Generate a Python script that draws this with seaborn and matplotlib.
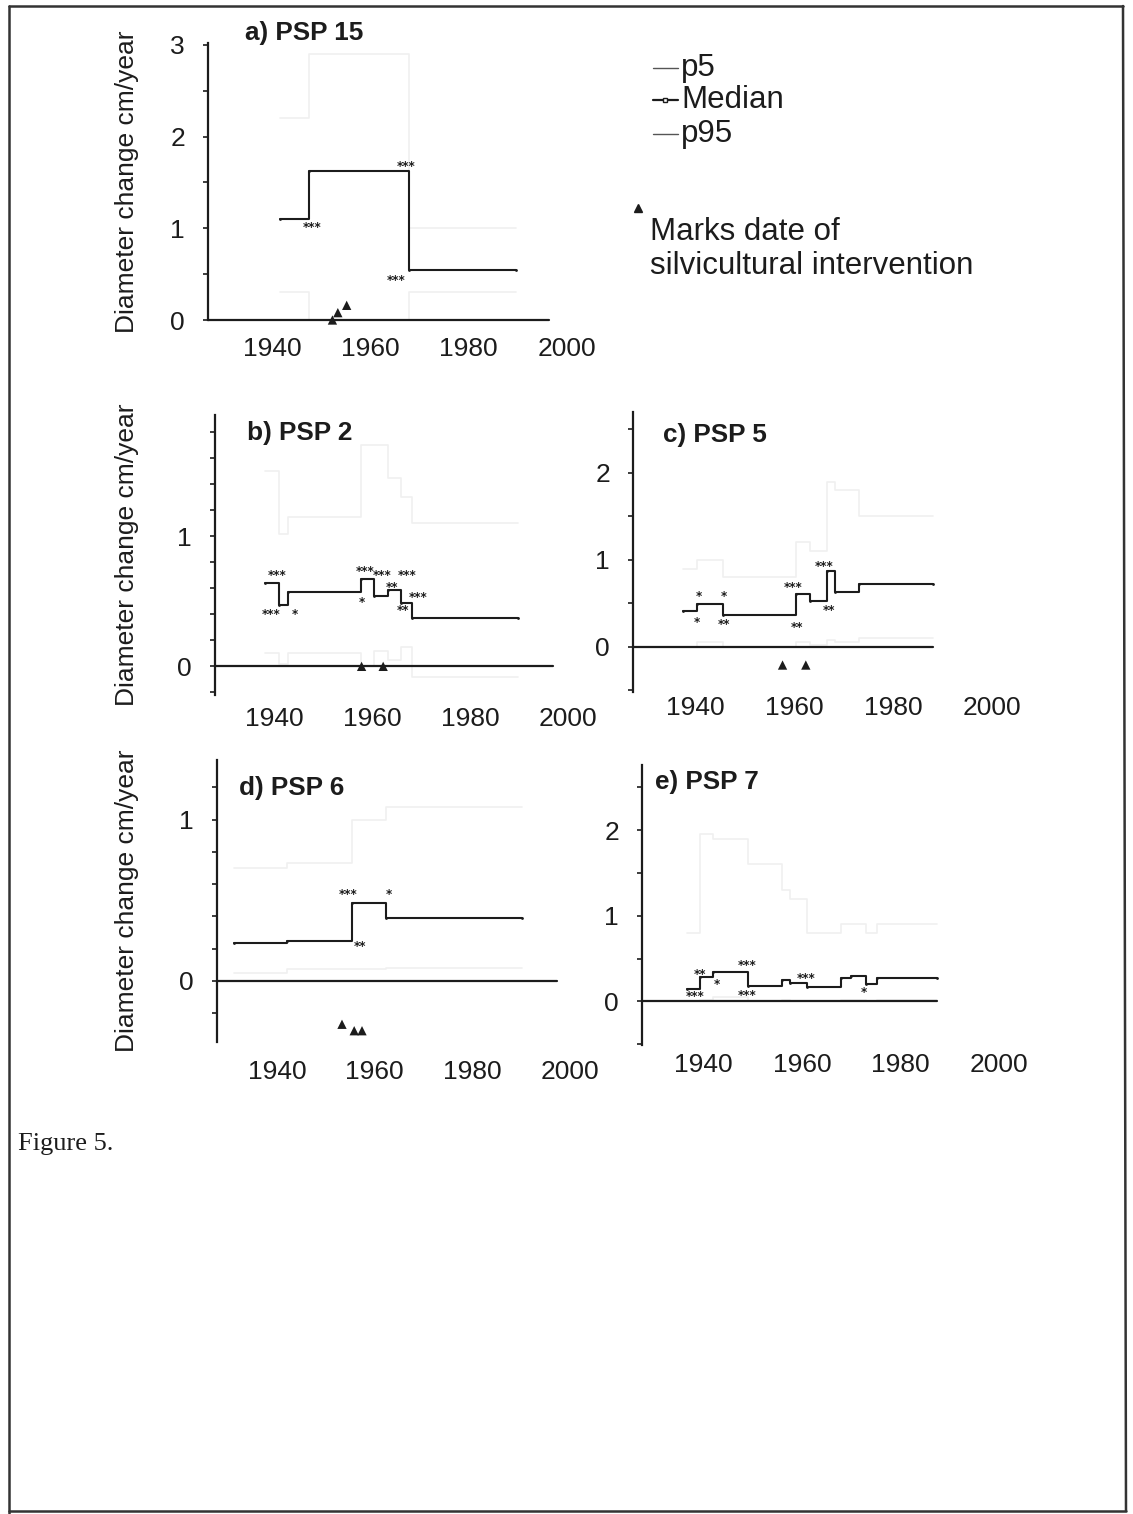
import matplotlib
matplotlib.use("Agg")
import matplotlib.pyplot as plt
from matplotlib.lines import Line2D
from matplotlib.ticker import FixedLocator
import seaborn as sns
import pandas as pd

# ---------------- data ----------------
# Panel a) PSP 15
A_YEARS = [1941.7, 1947.6, 1967.8, 1989.6]
A_MEDIAN = [1.10, 1.62, 0.54, 0.54]
A_P95 = [2.20, 2.90, 1.00, 1.00]
A_P5 = [0.30, 0.00, 0.30, 0.30]
A_INTERV_X = [1952.3, 1953.4, 1955.2]
A_INTERV_Y = [0.00, 0.08, 0.16]
A_STARS_X = [1948.1, 1967.2, 1965.3]
A_STARS_Y = [1.05, 1.72, 0.48]
A_STARS_T = ["***", "***", "***"]
A_ZERO_END = 1996.4

# Panel b) PSP 2
B_YEARS = [1938.2, 1941.1, 1942.9, 1957.8, 1960.4, 1963.3, 1966.0, 1968.2, 1989.9]
B_MEDIAN = [0.64, 0.47, 0.57, 0.67, 0.54, 0.59, 0.49, 0.37, 0.37]
B_P95 = [1.50, 1.02, 1.15, 1.70, 1.70, 1.45, 1.30, 1.10, 1.10]
B_P5 = [0.10, 0.02, 0.10, 0.00, 0.12, 0.05, 0.15, -0.08, -0.08]
B_INTERV_X = [1957.9, 1962.3]
B_INTERV_Y = [0.00, 0.00]
B_STARS_X = [1940.6, 1939.5, 1944.3, 1958.7, 1957.9, 1962.0, 1964.0, 1967.2, 1966.3, 1969.4]
B_STARS_Y = [0.73, 0.43, 0.43, 0.76, 0.52, 0.73, 0.635, 0.73, 0.46, 0.56]
B_STARS_T = ["***", "***", "*", "***", "*", "***", "**", "***", "**", "***"]
B_ZERO_END = 1997.0

# Panel c) PSP 5
C_YEARS = [1937.6, 1940.5, 1945.6, 1960.4, 1963.2, 1966.6, 1968.3, 1973.2, 1988.1]
C_MEDIAN = [0.41, 0.49, 0.36, 0.61, 0.53, 0.87, 0.63, 0.72, 0.72]
C_P95 = [0.90, 1.00, 0.80, 1.20, 1.10, 1.90, 1.80, 1.50, 1.50]
C_P5 = [0.00, 0.05, 0.00, 0.05, 0.02, 0.08, 0.05, 0.10, 0.10]
C_INTERV_X = [1957.7, 1962.4]
C_INTERV_Y = [-0.21, -0.21]
C_STARS_X = [1940.7, 1940.3, 1945.9, 1945.9, 1959.9, 1960.7, 1966.1, 1967.1]
C_STARS_Y = [0.63, 0.33, 0.63, 0.30, 0.73, 0.27, 0.97, 0.46]
C_STARS_T = ["*", "*", "*", "**", "***", "**", "***", "**"]
C_ZERO_END = 1988.1

# Panel d) PSP 6
D_YEARS = [1931.1, 1942.0, 1955.3, 1962.3, 1990.1]
D_MEDIAN = [0.235, 0.245, 0.48, 0.39, 0.39]
D_P95 = [0.70, 0.73, 1.00, 1.08, 1.08]
D_P5 = [0.05, 0.07, 0.07, 0.08, 0.08]
D_INTERV_X = [1953.3, 1955.8, 1957.4]
D_INTERV_Y = [-0.27, -0.31, -0.31]
D_STARS_X = [1954.6, 1956.9, 1962.8]
D_STARS_Y = [0.56, 0.24, 0.56]
D_STARS_T = ["***", "**", "*"]
D_ZERO_END = 1997.3

# Panel e) PSP 7
E_YEARS = [1936.6, 1939.3, 1942.0, 1949.0, 1956.0, 1957.5, 1961.1, 1967.9, 1970.0, 1972.9, 1975.3, 1987.5]
E_MEDIAN = [0.14, 0.28, 0.34, 0.18, 0.25, 0.21, 0.17, 0.27, 0.30, 0.20, 0.27, 0.27]
E_P95 = [0.80, 1.95, 1.90, 1.60, 1.30, 1.20, 0.80, 0.90, 0.90, 0.80, 0.90, 0.90]
E_P5 = [0.00, 0.02, 0.05, 0.00, 0.02, 0.00, 0.00, 0.02, 0.02, 0.00, 0.02, 0.02]
E_INTERV_X = []
E_INTERV_Y = []
E_STARS_X = [1939.3, 1938.3, 1942.7, 1948.8, 1948.8, 1960.9, 1972.6]
E_STARS_Y = [0.36, 0.11, 0.24, 0.47, 0.12, 0.32, 0.15]
E_STARS_T = ["**", "***", "*", "***", "***", "***", "*"]
E_ZERO_END = 1987.5

PANEL_TITLES = ["a) PSP 15", "b) PSP 2", "c) PSP 5", "d) PSP 6", "e) PSP 7"]
X_TICKS = [1940, 1960, 1980, 2000]
LEGEND_LABELS = ["p5", "Median", "p95"]
NOTE_TEXT = ["Marks date of", "silvicultural intervention"]
CAPTION = "Figure 5."
YLABEL = "Diameter change cm/year"

# ---------------- style ----------------
sns.set_style("ticks")
plt.rcParams["font.family"] = ["Liberation Sans", "DejaVu Sans"]
INK = "#1c1c1c"
FAINT = "#f0f0f0"

W, H = 1133, 1514
fig = plt.figure(figsize=(W / 100, H / 100), dpi=100)
fig.patch.set_facecolor("white")


def fx(px):
    return px / W


def fy(py):
    return 1 - py / H


def make_ax(l, r, t, b):
    return fig.add_axes([fx(l), fy(b), (r - l) / W, (b - t) / H])


panels = [
    dict(years=A_YEARS, med=A_MEDIAN, p95=A_P95, p5=A_P5, ix=A_INTERV_X, iy=A_INTERV_Y,
         sx=A_STARS_X, sy=A_STARS_Y, st=A_STARS_T, zend=A_ZERO_END,
         box=(208, 567, 43, 320), xlim=(1927, 2000), ylim=(0, 3.02),
         major=[0, 1, 2, 3], minor=[0.5, 1.5, 2.5], xpad=12, tpos=(245, 33), ylab=True),
    dict(years=B_YEARS, med=B_MEDIAN, p95=B_P95, p5=B_P5, ix=B_INTERV_X, iy=B_INTERV_Y,
         sx=B_STARS_X, sy=B_STARS_Y, st=B_STARS_T, zend=B_ZERO_END,
         box=(215, 568, 415, 695), xlim=(1928, 2000), ylim=(-0.22, 1.93),
         major=[0, 1], minor=[-0.2, 0.2, 0.4, 0.6, 0.8, 1.2, 1.4, 1.6, 1.8], xpad=8.5, tpos=(247, 433), ylab=True),
    dict(years=C_YEARS, med=C_MEDIAN, p95=C_P95, p5=C_P5, ix=C_INTERV_X, iy=C_INTERV_Y,
         sx=C_STARS_X, sy=C_STARS_Y, st=C_STARS_T, zend=C_ZERO_END,
         box=(633, 992, 412, 692), xlim=(1927.5, 2000), ylim=(-0.52, 2.7),
         major=[0, 1, 2], minor=[-0.5, 0.5, 1.5, 2.5], xpad=3, tpos=(663, 435), ylab=False),
    dict(years=D_YEARS, med=D_MEDIAN, p95=D_P95, p5=D_P5, ix=D_INTERV_X, iy=D_INTERV_Y,
         sx=D_STARS_X, sy=D_STARS_Y, st=D_STARS_T, zend=D_ZERO_END,
         box=(217, 570, 760, 1042), xlim=(1927.7, 2000), ylim=(-0.38, 1.37),
         major=[0, 1], minor=[-0.2, 0.2, 0.4, 0.6, 0.8, 1.2], xpad=13, tpos=(239, 788), ylab=True),
    dict(years=E_YEARS, med=E_MEDIAN, p95=E_P95, p5=E_P5, ix=E_INTERV_X, iy=E_INTERV_Y,
         sx=E_STARS_X, sy=E_STARS_Y, st=E_STARS_T, zend=E_ZERO_END,
         box=(642, 999, 765, 1045), xlim=(1927.5, 2000), ylim=(-0.51, 2.76),
         major=[0, 1, 2], minor=[-0.5, 0.5, 1.5, 2.5], xpad=5.5, tpos=(655, 782), ylab=False),
]

for p, ptitle in zip(panels, PANEL_TITLES):
    ax = make_ax(*p["box"])
    df = pd.DataFrame({"year": p["years"], "median": p["med"], "p95": p["p95"], "p5": p["p5"]})
    for col in ["p95", "p5"]:
        sns.lineplot(data=df, x="year", y=col, ax=ax, color=FAINT, lw=1.2,
                     drawstyle="steps-post", estimator=None, sort=False)
    zero = pd.DataFrame({"year": [p["xlim"][0], p["zend"]], "v": [0.0, 0.0]})
    sns.lineplot(data=zero, x="year", y="v", ax=ax, color=INK, lw=1.6,
                 estimator=None, sort=False, clip_on=False)
    sns.lineplot(data=df, x="year", y="median", ax=ax, color=INK, lw=1.5,
                 drawstyle="steps-post", estimator=None, sort=False,
                 marker="o", markersize=2, markeredgewidth=0)
    if p["ix"]:
        sns.scatterplot(x=p["ix"], y=p["iy"], ax=ax, marker="^", s=45,
                        color=INK, edgecolor="none", clip_on=False, zorder=5)
    for x, y, t in zip(p["sx"], p["sy"], p["st"]):
        ax.annotate(t, (x, y), xytext=(0, -3), textcoords="offset points",
                    fontsize=8.5, fontweight="bold", color=INK,
                    ha="center", va="center", family="DejaVu Sans")

    ax.set_xlim(*p["xlim"])
    ax.set_ylim(*p["ylim"])
    ax.set_xticks(X_TICKS)
    ax.set_xticklabels([str(t) for t in X_TICKS])
    ax.yaxis.set_major_locator(FixedLocator(p["major"]))
    ax.yaxis.set_minor_locator(FixedLocator(p["minor"]))
    ax.set_yticklabels([str(t) for t in p["major"]])
    ax.tick_params(axis="x", length=0, pad=p["xpad"], labelsize=19, labelcolor=INK)
    ax.tick_params(axis="y", which="both", direction="out", length=3.5, width=1.2,
                   color=INK, pad=13, labelsize=19, labelcolor=INK)
    for s in ["top", "right", "bottom"]:
        ax.spines[s].set_visible(False)
    ax.spines["left"].set_linewidth(1.6)
    ax.spines["left"].set_color(INK)
    ax.set_xlabel("")
    ax.set_ylabel("")
    ax.patch.set_alpha(0)
    fig.text(fx(p["tpos"][0]), fy(p["tpos"][1]), ptitle, fontsize=18.8, fontweight="bold",
             color=INK, ha="left", va="center")
    if p["ylab"]:
        t, b = p["box"][2], p["box"][3]
        fig.text(fx(127), fy((t + b) / 2), YLABEL, rotation=90, fontsize=19,
                 color=INK, ha="center", va="center")

# ---------------- legend ----------------
leg_y = [68, 100, 134]
for lbl, yy in zip(LEGEND_LABELS, leg_y):
    if lbl == "Median":
        fig.add_artist(Line2D([fx(653), fx(678)], [fy(yy), fy(yy)], color=INK, lw=1.6,
                              transform=fig.transFigure))
        fig.add_artist(Line2D([fx(665)], [fy(yy)], color=INK, marker="s", markersize=3.5,
                              markerfacecolor="white", linestyle="none",
                              transform=fig.transFigure))
    else:
        fig.add_artist(Line2D([fx(653), fx(678)], [fy(yy), fy(yy)], color="#555555", lw=1.0,
                              transform=fig.transFigure))
    fig.text(fx(681), fy(yy), lbl, fontsize=22.5, color=INK, ha="left", va="center")

fig.add_artist(Line2D([fx(638)], [fy(208)], marker="^", markersize=6, color=INK,
                      linestyle="none", transform=fig.transFigure))
fig.text(fx(650), fy(232), NOTE_TEXT[0], fontsize=22.5, color=INK, ha="left", va="center")
fig.text(fx(650), fy(266), NOTE_TEXT[1], fontsize=22.5, color=INK, ha="left", va="center")

# caption
fig.text(fx(18), fy(1144), CAPTION, fontsize=19, color=INK, ha="left", va="center",
         family=["Liberation Serif", "DejaVu Serif"])

# page frame
frame_kw = dict(color="#333333", lw=1.8, transform=fig.transFigure)
fig.add_artist(Line2D([fx(9), fx(1123)], [fy(6), fy(6)], **frame_kw))
fig.add_artist(Line2D([fx(9), fx(9)], [fy(6), fy(1514)], **frame_kw))
fig.add_artist(Line2D([fx(1123), fx(1126)], [fy(6), fy(1511)], **frame_kw))
fig.add_artist(Line2D([fx(9), fx(1126)], [fy(1511), fy(1511)], **frame_kw))

fig.savefig("out.png", dpi=100, facecolor="white")
